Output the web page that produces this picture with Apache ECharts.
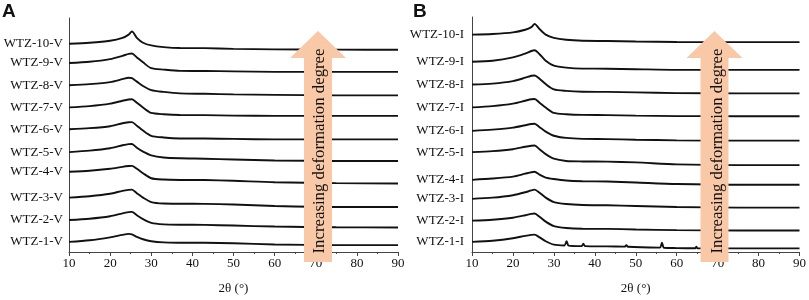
<!DOCTYPE html>
<html>
<head>
<meta charset="utf-8">
<title>XRD patterns WTZ</title>
<script src="https://cdn.jsdelivr.net/npm/echarts@6/dist/echarts.min.js"></script>
<style>
  html, body { margin: 0; padding: 0; background: #fff; }
  #chart { width: 809px; height: 300px; }
</style>
</head>
<body>
<div id="chart"></div>
<script>
const twoTheta = [10, 15, 20, 23, 24.5, 25.3, 26.5, 28, 30, 33, 37, 43, 50, 60, 75, 90];
const xTicks = [10, 20, 30, 40, 50, 60, 70, 80, 90];

// panel A: vertical samples, stacked intensity (a.u., offset already included), WTZ-1-V .. WTZ-10-V
const namesV = ['WTZ-1-V', 'WTZ-2-V', 'WTZ-3-V', 'WTZ-4-V', 'WTZ-5-V', 'WTZ-6-V', 'WTZ-7-V', 'WTZ-8-V', 'WTZ-9-V', 'WTZ-10-V'];
const intensV = [
    [10.3, 12, 15, 17.5, 18.5, 18, 15.5, 13, 11, 9.8, 9.5, 9.4, 9, 7.7, 7, 7],
    [32.7, 34, 36.5, 39.5, 40.7, 41, 37.5, 33.5, 29.7, 28.2, 27.8, 27.7, 27, 26, 25.3, 25],
    [55.5, 57, 59.5, 62.5, 63.5, 63.7, 60, 55.5, 51, 49.5, 49.3, 49.2, 48.5, 47, 46, 46],
    [82, 83, 85, 87, 87.8, 88, 85, 80.5, 75.3, 74, 73.6, 73.5, 72.7, 71.2, 70.3, 70],
    [102, 103.5, 106, 109, 110.2, 110.3, 106.5, 102.5, 98.7, 96.5, 95.7, 95.3, 94.5, 93.5, 93, 93],
    [125.3, 126.5, 128.5, 131.5, 132.5, 132.7, 129, 124, 118.7, 117, 116, 115.9, 115.5, 115, 115, 115],
    [147.7, 149, 151.5, 154.5, 155.8, 156, 152.5, 147.5, 142, 140.7, 139.9, 139.8, 139.3, 139, 139, 139],
    [170.3, 171.5, 173.5, 176.5, 178, 177.5, 174, 169.5, 165.3, 163.5, 162, 161.6, 161, 160.5, 160, 160],
    [193, 194.3, 197, 200.3, 202.3, 202.7, 198.7, 193.7, 187.7, 186.3, 185, 184.9, 184.5, 184, 184, 184],
    [212.7, 213.7, 215.7, 218.7, 222, 225.3, 218.7, 213.7, 211, 209.3, 208.3, 208.2, 207.5, 207, 206.7, 206.5]
];

// panel B: WTZ-2-I .. WTZ-10-I on the same 2θ points
const namesI = ['WTZ-1-I', 'WTZ-2-I', 'WTZ-3-I', 'WTZ-4-I', 'WTZ-5-I', 'WTZ-6-I', 'WTZ-7-I', 'WTZ-8-I', 'WTZ-9-I', 'WTZ-10-I'];
const intensI = [
    null, // WTZ-1-I has its own 2θ list below (small crystalline peaks)
    [32, 33, 35, 37.5, 39, 39.3, 36, 31, 26.5, 24.5, 23.7, 23.6, 23, 22.3, 22, 22],
    [54.3, 55.5, 58, 61, 63, 63.7, 60.5, 55.5, 51, 49, 48, 47.7, 47, 46, 45.3, 45.3],
    [73.7, 75, 77, 80, 81.5, 82, 79, 76, 74.5, 73, 72.3, 72, 71, 69.5, 68.7, 68.7],
    [102, 103, 105, 107.5, 108.5, 108.7, 105, 100, 95.3, 93, 92.5, 92.3, 91.5, 89.5, 88.7, 88.7],
    [123.7, 125, 127, 129.5, 130.7, 131, 127.5, 123, 118.7, 116.5, 115.5, 115.3, 114.7, 114, 113.7, 113.7],
    [147.7, 149, 151.5, 154.5, 156, 156.3, 152.5, 147.5, 142, 140.7, 140, 139.8, 139.3, 138.8, 138.7, 138.7],
    [171, 172, 174.5, 178, 180, 180.3, 177, 171.5, 166, 164.5, 163.7, 163.5, 163, 162.3, 162, 162],
    [194.3, 195.3, 198.7, 202.7, 205.3, 206, 202, 195.3, 190.3, 188.3, 187.3, 187.2, 186.7, 186, 186, 186],
    [222, 222.7, 224.3, 227, 229.7, 233, 227.7, 222, 218.7, 216.7, 215.7, 215.5, 215, 214.5, 214.3, 214.3]
];
const twoThetaI1 = [10, 15, 20, 23, 24.5, 25.3, 26.5, 28, 30, 32.6, 33.1, 33.6, 36.8, 37.2, 37.6, 43, 47.3, 47.7, 48.1, 55.9, 56.4, 56.9, 60, 64.5, 64.8, 65.1, 75, 90];
const intensI1 = [10.3, 11.5, 14, 16.5, 17.5, 17.7, 15, 11, 7.5, 6.7, 11, 6.5, 6, 8.5, 6, 5.7, 5.5, 7, 5.3, 4.5, 9.5, 4.3, 4, 3.8, 5.5, 3.8, 3.7, 3.7];

const serif = "'Liberation Serif', 'Times New Roman', serif";
const peach = '#F9C8A6';

function makeSeries(xs, ys, name, idx, labelGap) {
    return {
        type: 'line',
        name: name,
        xAxisIndex: idx,
        yAxisIndex: idx,
        symbol: 'circle',
        symbolSize: 0,
        showSymbol: true,
        smooth: 0.25,
        silent: true,
        z: 2,
        lineStyle: { color: '#111', width: 1.9 },
        itemStyle: { color: '#111' },
        data: xs.map((x, i) => {
            if (i === 0) {
                return {
                    value: [x, ys[i]],
                    label: {
                        show: true,
                        position: 'left',
                        distance: labelGap,
                        formatter: name,
                        color: '#111',
                        fontFamily: serif,
                        fontSize: 13
                    }
                };
            }
            return [x, ys[i]];
        })
    };
}

const series = [];
namesV.forEach((n, i) => series.push(makeSeries(twoTheta, intensV[i], n, 0, 6)));
series.push(makeSeries(twoThetaI1, intensI1, namesI[0], 1, 8));
for (let i = 1; i < namesI.length; i++) {
    series.push(makeSeries(twoTheta, intensI[i], namesI[i], 1, 8));
}

function xAxisCfg(idx) {
    return {
        type: 'value',
        gridIndex: idx,
        min: xTicks[0],
        max: xTicks[xTicks.length - 1],
        interval: 10,
        name: '2θ (°)',
        nameLocation: 'middle',
        nameGap: 30,
        nameTextStyle: { fontFamily: serif, fontSize: 13, color: '#111' },
        axisLine: { show: true, lineStyle: { color: '#444', width: 1 } },
        axisTick: { show: true, inside: false, length: 4, lineStyle: { color: '#444' } },
        minorTick: { show: true, splitNumber: 2, length: 2, lineStyle: { color: '#444' } },
        axisLabel: { margin: 5, fontFamily: serif, fontSize: 13, color: '#111' },
        splitLine: { show: false }
    };
}

function yAxisCfg(idx, top) {
    return {
        type: 'value',
        gridIndex: idx,
        min: 0,
        max: top,
        axisLine: { show: true, onZero: false, lineStyle: { color: '#444', width: 1 } },
        axisTick: { show: false },
        axisLabel: { show: false },
        splitLine: { show: false }
    };
}

// upward arrow with the rotated caption
function arrow(cx, capX) {
    return [
        {
            type: 'polygon',
            z: 100,
            shape: {
                points: [
                    [cx - 14, 262], [cx - 14, 58], [cx - 28, 58], [cx, 31],
                    [cx + 28, 58], [cx + 14, 58], [cx + 14, 262]
                ]
            },
            style: { fill: peach }
        },
        {
            type: 'text',
            z: 101,
            x: capX,
            y: 151,
            rotation: Math.PI / 2,
            style: {
                text: 'Increasing deformation degree',
                fontFamily: serif,
                fontSize: 16.8,
                fill: '#111',
                textAlign: 'center',
                textVerticalAlign: 'middle'
            }
        }
    ];
}

const chart = echarts.init(document.getElementById('chart'), null, { renderer: 'canvas' });
chart.setOption({
    backgroundColor: '#fff',
    animation: false,
    grid: [
        { left: 69, right: 411, top: 18, bottom: 43 },
        { left: 472, right: 9, top: 17, bottom: 43 }
    ],
    xAxis: [xAxisCfg(0), xAxisCfg(1)],
    yAxis: [yAxisCfg(0, 239), yAxisCfg(1, 240)],
    series: series,
    graphic: [
        {
            type: 'text', left: 2, top: 2,
            style: { text: 'A', fontFamily: "'Liberation Sans', Arial, sans-serif", fontWeight: 'bold', fontSize: 19, fill: '#111' }
        },
        {
            type: 'text', left: 413, top: 2,
            style: { text: 'B', fontFamily: "'Liberation Sans', Arial, sans-serif", fontWeight: 'bold', fontSize: 19, fill: '#111' }
        }
    ].concat(arrow(318, 320), arrow(714.5, 718))
});
</script>
</body>
</html>
